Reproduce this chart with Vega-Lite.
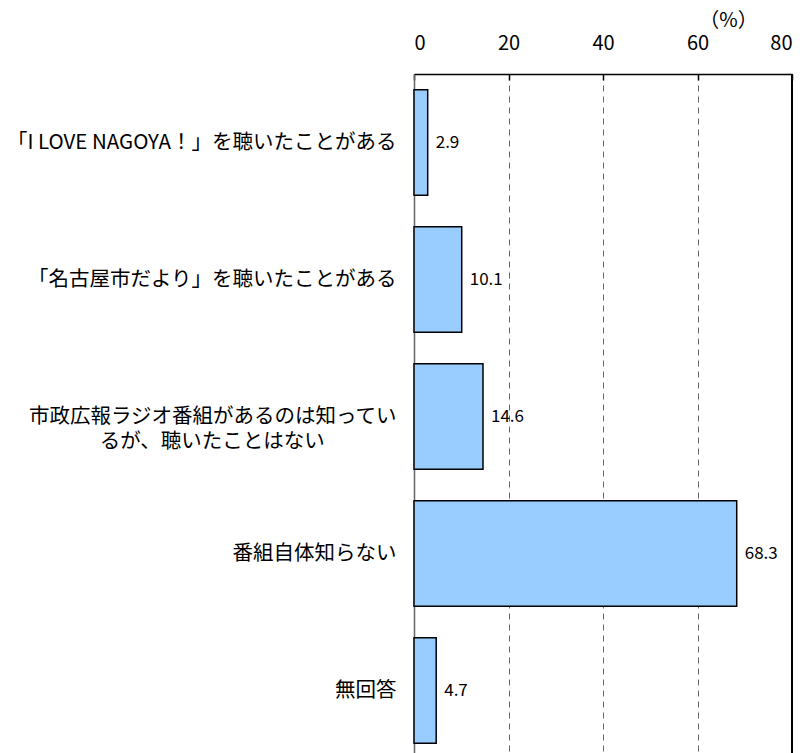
{
  "$schema": "https://vega.github.io/schema/vega-lite/v6.json",
  "autosize": {"type": "none"},
  "padding": {"left": 414, "top": 74, "right": 14, "bottom": 0},
  "width": 378,
  "height": 685,
  "background": "white",
  "config": {
    "view": {"stroke": null},
    "font": "Noto Sans CJK JP"
  },
  "data": {
    "values": [
      {"item": "「I LOVE NAGOYA！」を聴いたことがある", "value": 2.9},
      {"item": "「名古屋市だより」を聴いたことがある", "value": 10.1},
      {"item": "市政広報ラジオ番組があるのは知ってい|るが、聴いたことはない　　　\u2002\u2060", "value": 14.6},
      {"item": "番組自体知らない", "value": 68.3},
      {"item": "無回答", "value": 4.7}
    ]
  },
  "encoding": {
    "y": {
      "field": "item",
      "type": "nominal",
      "sort": null,
      "scale": {"paddingInner": 0.23, "paddingOuter": 0.115},
      "axis": {
        "title": null,
        "orient": "left",
        "domainColor": "#666666",
        "domainWidth": 1.5,
        "ticks": false,
        "labelPadding": 18,
        "labelFontSize": 20.5,
        "labelColor": "#000000",
        "labelFont": "Noto Sans CJK JP",
        "labelLimit": 0,
        "labelLineHeight": 25,
        "labelExpr": "split(datum.label, '|')"
      }
    },
    "x": {
      "field": "value",
      "type": "quantitative",
      "scale": {"domain": [0, 80], "nice": false, "zero": true},
      "axis": {
        "orient": "top",
        "values": [0, 20, 40, 60, 80],
        "title": "（%）",
        "titleX": 314,
        "titleY": -54,
        "titleAlign": "center",
        "titleBaseline": "middle",
        "titleFontSize": 20,
        "titleFontWeight": "normal",
        "titleColor": "#000000",
        "titleFont": "Noto Sans CJK JP",
        "domainColor": "#000000",
        "domainWidth": 1.5,
        "tickColor": "#000000",
        "tickWidth": 1.5,
        "tickSize": -6,
        "labelPadding": 27,
        "labelFontSize": 20,
        "labelColor": "#000000",
        "labelFont": "Noto Sans CJK JP",
        "grid": true,
        "gridColor": "#666666",
        "gridDash": [6, 5],
        "gridWidth": 1
      }
    }
  },
  "layer": [
    {
      "mark": {"type": "bar", "fill": "#99CCFF", "stroke": "#000000", "strokeWidth": 1.5}
    },
    {
      "mark": {"type": "text", "align": "left", "baseline": "middle", "dx": 8, "fontSize": 17, "font": "Noto Sans CJK JP", "color": "#000000"},
      "encoding": {"text": {"field": "value", "type": "quantitative", "format": ".1f"}}
    },
    {
      "mark": {"type": "rule", "color": "#000000", "strokeWidth": 1.5},
      "encoding": {"x": {"datum": 80}, "y": null}
    }
  ]
}
